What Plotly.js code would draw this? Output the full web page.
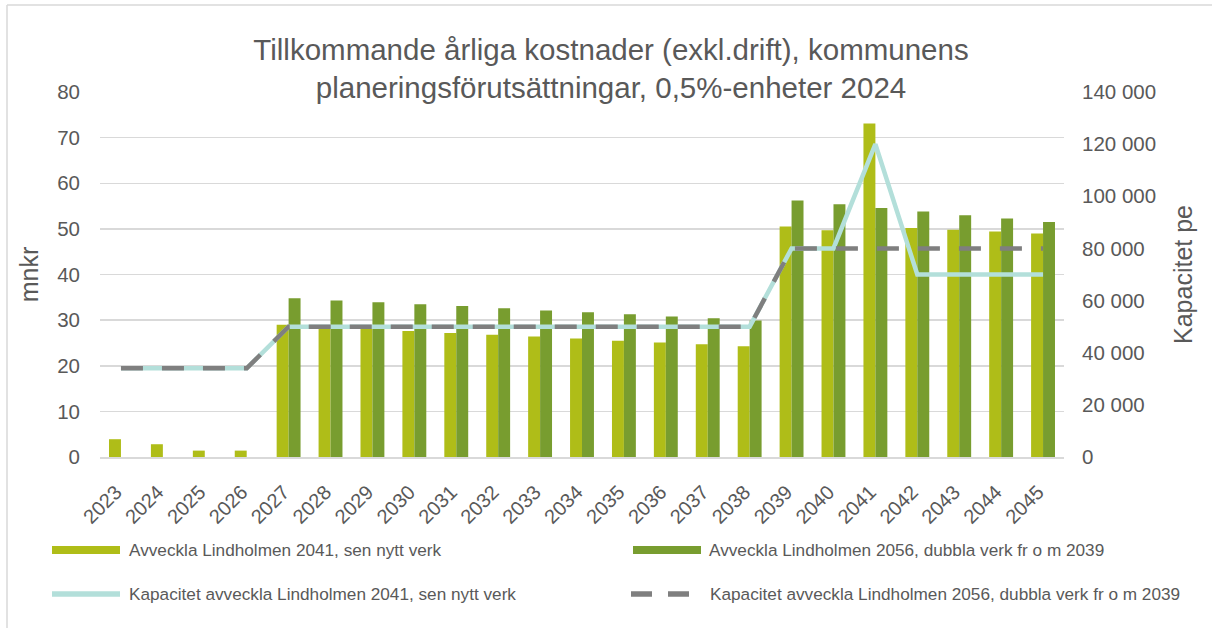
<!DOCTYPE html>
<html>
<head>
<meta charset="utf-8">
<script src="https://cdn.plot.ly/plotly-3.0.1.min.js"></script>
<style>
html,body{margin:0;padding:0;background:#fff;}
#chart{width:1212px;height:628px;}
</style>
</head>
<body>
<div id="chart"></div>
<script>
const years = ["2023","2024","2025","2026","2027","2028","2029","2030","2031","2032","2033","2034","2035","2036","2037","2038","2039","2040","2041","2042","2043","2044","2045"];
const cost2041 = [3.9,2.8,1.4,1.4,29.0,28.6,28.1,27.6,27.2,26.8,26.4,26.0,25.5,25.1,24.7,24.3,50.5,49.7,73.1,50.2,49.8,49.4,49.0];
const cost2056 = [null,null,null,null,34.8,34.3,33.9,33.5,33.1,32.6,32.1,31.7,31.3,30.8,30.4,29.9,56.2,55.4,54.6,53.8,53.0,52.3,51.5];
const cap2041 = [34000,34000,34000,34000,50000,50000,50000,50000,50000,50000,50000,50000,50000,50000,50000,50000,80000,80000,120000,70000,70000,70000,70000];
const cap2056 = [34000,34000,34000,34000,50000,50000,50000,50000,50000,50000,50000,50000,50000,50000,50000,50000,80000,80000,80000,80000,80000,80000,80000];
const names = [
  "Avveckla Lindholmen 2041, sen nytt verk",
  "Avveckla Lindholmen 2056, dubbla verk fr o m 2039",
  "Kapacitet avveckla Lindholmen 2041, sen nytt verk",
  "Kapacitet avveckla Lindholmen 2056, dubbla verk fr o m 2039"
];
const titleText = "Tillkommande årliga kostnader (exkl.drift), kommunens<br>planeringsförutsättningar, 0,5%-enheter 2024";

const cLight = "#afbd18", cDark = "#789d2f", cTeal = "#b3dfda", cGray = "#7f7f7f";
const txt = "#595959";
const F = "Liberation Sans, Arial, sans-serif";

const traces = [
  {type:"bar", x:years, y:cost2041, name:names[0], marker:{color:cLight}, yaxis:"y", showlegend:false},
  {type:"bar", x:years, y:cost2056, name:names[1], marker:{color:cDark}, yaxis:"y", showlegend:false},
  {type:"scatter", mode:"lines", x:years, y:cap2041, name:names[2], line:{color:cTeal, width:4.5}, yaxis:"y2", showlegend:false},
  {type:"scatter", mode:"lines", x:years, y:cap2056, name:names[3], line:{color:cGray, width:4.5, dash:"22px,19px"}, yaxis:"y2", showlegend:false}
];

const W = 1212, H = 628;
const PL = 100, PR = 1064, PT = 92, PB = 457;
// pixel -> plot-domain paper fraction
const px = v => (v - PL) / (PR - PL);
const py = v => (PB - v) / (PB - PT);

const legPos = [
  {x0:52, x1:120, y:550, tx:127},
  {x0:633, x1:701, y:550, tx:707},
  {x0:52, x1:120, y:594, tx:127},
  {x0:633, x1:689, y:594, tx:708}
];
const shapes = [
  {type:"line", xref:"paper", yref:"paper", x0:px(7), x1:px(7), y0:py(5), y1:py(640), line:{color:"#d9d9d9", width:1.5}},
  {type:"line", xref:"paper", yref:"paper", x0:px(7), x1:px(1230), y0:py(5), y1:py(5), line:{color:"#d9d9d9", width:1.5}},
  {type:"rect", xref:"paper", yref:"paper", x0:px(legPos[0].x0), x1:px(legPos[0].x1), y0:py(legPos[0].y-4), y1:py(legPos[0].y+4), fillcolor:cLight, line:{width:0}},
  {type:"rect", xref:"paper", yref:"paper", x0:px(legPos[1].x0), x1:px(legPos[1].x1), y0:py(legPos[1].y-4), y1:py(legPos[1].y+4), fillcolor:cDark, line:{width:0}},
  {type:"line", xref:"paper", yref:"paper", x0:px(legPos[2].x0), x1:px(legPos[2].x1), y0:py(legPos[2].y), y1:py(legPos[2].y), line:{color:cTeal, width:5.5}},
  {type:"line", xref:"paper", yref:"paper", x0:px(631), x1:px(652), y0:py(legPos[3].y), y1:py(legPos[3].y), line:{color:cGray, width:5.5}},
  {type:"line", xref:"paper", yref:"paper", x0:px(668), x1:px(689), y0:py(legPos[3].y), y1:py(legPos[3].y), line:{color:cGray, width:5.5}}
];
const annotations = legPos.map((p,i)=>({
  xref:"paper", yref:"paper", x:px(p.tx), y:py(p.y), xanchor:"left", yanchor:"middle",
  text:names[i], showarrow:false, font:{family:F, size:17.2, color:txt}
}));

const layout = {
  width:W, height:H,
  margin:{l:PL, r:W-PR, t:PT, b:H-PB},
  paper_bgcolor:"#fff", plot_bgcolor:"#fff",
  separators:", ",
  font:{family:F, color:txt},
  title:{text:titleText, x:611/W, xanchor:"center", xref:"container", y:1-60/H, yanchor:"middle", yref:"container",
         font:{family:F, size:29.5, color:txt}},
  barmode:"group", bargap:0.43, bargroupgap:0,
  xaxis:{type:"category", tickangle:-45, tickfont:{family:F, size:20, color:txt}, showgrid:false,
         showline:true, linecolor:"#d9d9d9", linewidth:1.5, ticks:"", automargin:false,
         ticklabelshift:-5, ticklabelstandoff:14},
  yaxis:{range:[0,80], dtick:10, showgrid:true, gridcolor:"#d9d9d9", gridwidth:1.5, zeroline:false,
         tickfont:{family:F, size:20.5, color:txt}, ticks:"", ticklabelstandoff:19,
         title:{text:"mnkr", font:{family:F, size:25, color:txt}, standoff:11}, automargin:false},
  yaxis2:{range:[0,140000], dtick:20000, overlaying:"y", side:"right", showgrid:false, zeroline:false,
          tickformat:",d", tickfont:{family:F, size:20.5, color:txt}, ticks:"", ticklabelstandoff:17,
          title:{text:"Kapacitet pe", font:{family:F, size:25, color:txt}, standoff:19}, automargin:false},
  shapes:shapes,
  annotations:annotations
};

Plotly.newPlot("chart", traces, layout, {displayModeBar:false, staticPlot:true});
</script>
</body>
</html>
